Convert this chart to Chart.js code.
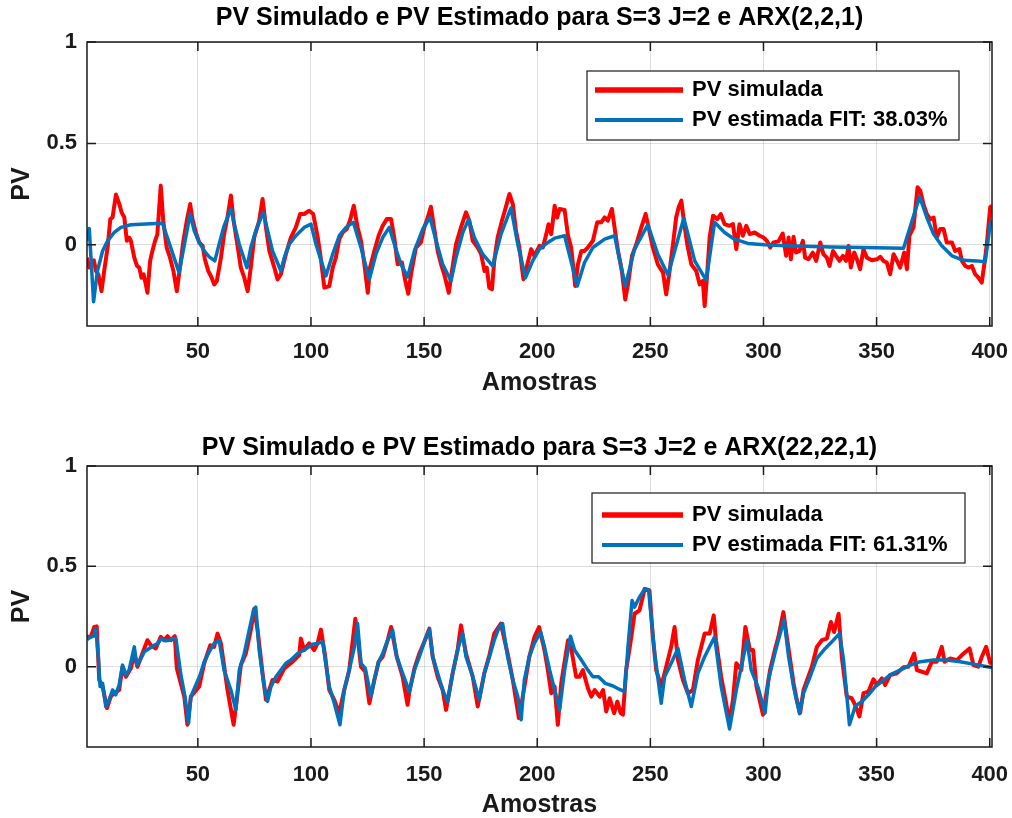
<!DOCTYPE html>
<html>
<head>
<meta charset="utf-8">
<script src="https://cdn.jsdelivr.net/npm/chart.js@4.4.1/dist/chart.umd.min.js"></script>
<style>
html, body { margin: 0; padding: 0; background: #fff; overflow: hidden; }
#wrapTop { position: absolute; left: 0; top: 0; width: 1012px; height: 409px; }
#wrapBot { position: absolute; left: 0; top: 409px; width: 1012px; height: 420px; }
</style>
</head>
<body>
<div id="wrapTop"><canvas id="chartTop"></canvas></div>
<div id="wrapBot"><canvas id="chartBot"></canvas></div>
<script>
var xTicks = [50, 100, 150, 200, 250, 300, 350, 400];
var yTicks = [0, 0.5, 1];

// top: ARX(2,2,1)
var topSimX = [1, 2, 3, 4, 5, 6, 7.4, 8.6, 10.1, 11.3, 12.3, 13.8, 15.3, 16.3, 17.5, 18.6, 19.6, 20.4, 21.9, 23.1,
  24.1, 25.1, 26, 27, 27.7, 28.9, 29.9, 30.9, 32.1, 33.6, 34.7, 36.2, 37.7, 39.2, 40.7, 42.1, 43.6, 45.1, 46.6, 47.6,
  49.1, 50.6, 52.1, 53.1, 54.6, 56.1, 57.2, 58.4, 60.2, 61.6, 63.1, 64.6, 65.8, 67.2, 69, 70.5, 72, 73.4, 74.9, 77.1,
  78.6, 80.1, 81.6, 83.8, 85.2, 86.7, 88.9, 91.1, 93.3, 95.2, 97, 99.2, 101, 103, 104.4, 105.9, 108.1, 109.6, 111, 112.5,
  114, 115.8, 117.2, 118.9, 120.6, 122.1, 123.6, 125.1, 126.1, 128, 129.9, 131.7, 133.5, 135.4, 136.8, 138.3, 140.2, 141.7, 143, 144.2,
  146.4, 148.6, 150.1, 151.6, 153, 154.5, 156, 157.5, 158.9, 160.9, 162.3, 164.1, 166.3, 168.5, 170, 171.5, 173.7, 175.2, 176.7, 177.7,
  178.8, 180, 181, 182.5, 184.4, 186.1, 187.7, 189.2, 190.6, 192.1, 193.9, 195.3, 197.3, 198.7, 201, 202.5, 204, 205, 206.2, 207.7,
  208.8, 209.9, 212.1, 213.6, 215, 216.8, 218, 219.5, 220.9, 222.4, 224.6, 226.5, 228.3, 229.8, 231.2, 233, 234.5, 235.7, 237.4, 238.9,
  240.1, 241.9, 243.8, 246, 247.9, 249.2, 251.1, 253.3, 255.6, 257, 258.5, 260, 261.4, 262.5, 263.7, 264.8, 266.3, 268.1, 270.3, 271.8,
  273.2, 274, 275.2, 276.2, 277.7, 279.6, 281.1, 282.8, 285, 286.5, 288, 289.4, 290.9, 292.4, 293.9, 296.1, 298.3, 300, 301.5, 303,
  304.4, 306.6, 308.5, 310, 311.1, 312.1, 313.3, 314.4, 315.9, 317.4, 318.4, 319.9, 321.8, 323.3, 325.1, 326.5, 328, 329.2, 330.7, 332.1,
  333.6, 335.1, 336.5, 337.6, 338.6, 340.1, 341.3, 342.7, 344.2, 345.7, 347.9, 350.1, 351.6, 353, 354.5, 356, 357.5, 359, 360.4, 362.2,
  363.4, 364.5, 366.3, 368.1, 369.3, 370.7, 372.2, 373.7, 375.2, 376.6, 378.1, 379.6, 381, 383.3, 384.7, 386.6, 387.7, 389.2, 390.6, 392.1,
  393.6, 395, 396.5, 397.6, 398.7, 400.2, 401];
var topSimY = [-0.063, -0.112, -0.087, -0.076, -0.129, -0.145, -0.228, -0.129, -0.013, 0.127, 0.135, 0.248, 0.201, 0.16, 0.135, 0.02, 0.036, 0.02, -0.063, -0.104,
  -0.112, -0.162, -0.145, -0.195, -0.236, -0.079, -0.03, 0.012, 0.053, 0.292, 0.119, -0.013, -0.063, -0.129, -0.228, -0.112, 0.02, 0.119, 0.201, 0.127,
  0.061, 0.012, -0.005, -0.071, -0.129, -0.162, -0.195, -0.178, -0.063, 0.053, 0.135, 0.243, 0.119, 0.02, -0.112, -0.162, -0.228, -0.112, 0.036, 0.119,
  0.226, 0.086, -0.03, -0.112, -0.17, -0.145, -0.046, 0.036, 0.086, 0.152, 0.152, 0.168, 0.152, 0.036, -0.071, -0.211, -0.203, -0.112, -0.063, 0.028,
  0.061, 0.078, 0.119, 0.193, 0.086, 0.02, -0.096, -0.236, -0.112, -0.03, 0.045, 0.094, 0.127, 0.127, 0.036, -0.096, -0.087, -0.178, -0.241, -0.145,
  -0.013, 0.012, 0.086, 0.135, 0.188, 0.078, -0.03, -0.096, -0.145, -0.236, -0.129, 0.003, 0.086, 0.16, 0.119, 0.02, -0.013, -0.046, -0.129, -0.112,
  -0.211, -0.219, -0.079, 0.036, 0.119, 0.185, 0.251, 0.201, 0.069, -0.013, -0.17, -0.112, -0.021, -0.054, -0.005, -0.013, 0.053, 0.102, 0.053, 0.193,
  0.135, 0.177, 0.172, 0.045, -0.013, -0.203, -0.096, -0.03, -0.03, -0.013, 0.02, 0.111, 0.111, 0.135, 0.119, 0.177, 0.061, -0.03, -0.129, -0.269,
  -0.195, -0.054, 0.003, 0.086, 0.152, 0.086, -0.013, -0.096, -0.137, -0.244, -0.129, 0.003, 0.135, 0.185, 0.218, 0.119, 0.003, -0.096, -0.129, -0.195,
  -0.178, -0.302, -0.129, 0.036, 0.144, 0.127, 0.152, 0.102, 0.094, 0.102, -0.021, 0.102, 0.045, 0.094, 0.053, 0.061, 0.045, 0.036, 0.02, -0.013,
  0.012, 0.017, 0.056, -0.054, 0.036, -0.071, 0.04, -0.038, -0.03, 0.02, -0.063, -0.071, -0.038, -0.079, 0.012, -0.046, -0.063, -0.104, -0.03, -0.054,
  -0.079, -0.054, -0.079, -0.005, -0.112, -0.038, -0.071, -0.12, -0.021, -0.063, -0.076, -0.071, -0.059, -0.079, -0.087, -0.145, -0.046, -0.079, -0.112, -0.038,
  -0.12, 0.045, 0.086, 0.284, 0.267, 0.201, 0.152, 0.127, 0.135, 0.036, 0.078, 0.078, 0.012, 0.012, -0.03, -0.021, -0.079, -0.104, -0.112, -0.104,
  -0.145, -0.162, -0.186, -0.096, 0.003, 0.185, 0.193];

var topEstX = [1, 2, 3.9, 5.6, 7.9, 10.1, 13, 16, 20.4, 24.8, 29.2, 34.4, 41.7, 46.6, 48.4, 50.6, 52.8, 55, 57.5, 59.4,
  61.6, 64.6, 66.1, 68.3, 71.7, 73.4, 75.6, 78.9, 80.5, 83, 86.7, 88.2, 90.4, 93.3, 97, 100, 102.2, 106.6, 109.6, 112.5,
  115.5, 118.7, 122.1, 125.8, 128.7, 131.7, 134.6, 137.3, 139.8, 142.7, 145.7, 149.4, 152.6, 155.3, 158.2, 161.9, 164.1, 167.1, 169.7, 172.2,
  175.9, 180.3, 184, 188.4, 191.4, 194.8, 198, 201, 204.7, 207.7, 212.1, 217.7, 220.9, 224.6, 229.8, 234.2, 238.9, 243, 248.9, 253.3,
  257.8, 264.8, 269.6, 274.7, 278.4, 282.8, 287.2, 293.1, 300.5, 310, 330, 350, 361.9, 369, 372.2, 375.2, 378.8, 383.3, 388.4, 394.3,
  398, 400.2, 401];
var topEstY = [0.02, 0.08, -0.28, -0.129, -0.03, 0.02, 0.061, 0.086, 0.099, 0.102, 0.104, 0.106, -0.137, 0.152, 0.069, 0.012, -0.03, -0.059, -0.079, 0.003,
  0.094, 0.177, 0.102, 0.003, -0.112, -0.013, 0.069, 0.16, 0.086, -0.03, -0.129, -0.063, 0.003, 0.045, 0.086, 0.102, 0.003, -0.153, -0.046, 0.045,
  0.086, 0.111, -0.013, -0.17, -0.046, 0.036, 0.086, -0.013, -0.096, -0.158, -0.03, 0.078, 0.135, 0.02, -0.096, -0.178, -0.063, 0.061, 0.127, 0.036,
  -0.046, -0.104, 0.053, 0.182, 0.003, -0.162, -0.079, -0.021, 0.012, 0.033, 0.045, -0.203, -0.087, -0.013, 0.028, 0.045, -0.203, -0.021, 0.099, -0.046,
  -0.149, 0.132, -0.079, -0.175, 0.111, 0.061, 0.028, 0.007, 0.0, -0.004, -0.01, -0.014, -0.017, 0.238, 0.135, 0.053, -0.005, -0.054, -0.076, -0.079,
  -0.083, 0.102, 0.12];

// bottom: ARX(22,22,1)
var botSimX = [1, 2.7, 4.2, 5.3, 6.4, 7.9, 9.8, 11.5, 13, 15.2, 16.7, 18.2, 20.4, 21.9, 23.3, 25.5, 27.7, 29.2, 31.4, 33.6,
  35.1, 36.6, 38.1, 39.8, 40.7, 44, 45.4, 46.9, 50.6, 52.8, 55.5, 57.2, 58.7, 60.2, 63.1, 65.8, 67.2, 69, 71.2, 73.4,
  74.9, 76.4, 78.6, 80.1, 83, 85.2, 88.2, 91.9, 94.8, 95.5, 97, 99.2, 101.4, 102.9, 104.4, 106.3, 108.1, 110.3, 112.5, 114.7,
  116.9, 119.6, 120.6, 122.1, 124, 125.8, 128, 129.9, 131.7, 133.9, 135.4, 137.9, 140.5, 142.7, 143.5, 145.7, 147.9, 150.1, 152.3, 153.8,
  156, 158.2, 159.7, 162.6, 164.8, 166.3, 168.5, 171.5, 173.7, 176.6, 178.9, 181, 183.9, 186.9, 189.2, 191.9, 193.6, 196.5, 198.8, 200.8,
  203.2, 204.7, 206.2, 207.7, 209.1, 210.6, 213.6, 215, 217.2, 218.7, 220.2, 222.4, 223.9, 225.4, 227.6, 229.1, 230.5, 232, 234, 235.4,
  236.9, 237.9, 239.3, 241.6, 243, 245.2, 247.5, 249.6, 251.1, 252.6, 254.8, 257, 259.2, 260.7, 262.2, 264.4, 266.6, 268.8, 271, 272.5,
  274, 276.2, 278, 279, 281.3, 283.5, 285, 286.5, 288, 290.2, 292, 294, 295.4, 296.9, 299.8, 302.9, 305.2, 306.6, 308.8, 310.3,
  313.3, 314.7, 316.2, 317.7, 321.4, 323.6, 325.8, 328, 329.8, 331.2, 333.2, 334.6, 336.8, 339, 340.5, 342.4, 344.2, 346.4, 348.6, 350.1,
  352.3, 353.8, 356, 358.9, 361.9, 364.1, 366.6, 367.8, 370, 372.2, 374.4, 376.6, 378.8, 380, 382.5, 385.5, 387.7, 391.1, 392.8, 395,
  396.5, 398.4, 400.2, 401];
var botSimY = [0.149, 0.149, 0.198, 0.201, -0.066, -0.099, -0.206, -0.149, -0.132, -0.116, 0, -0.05, -0.008, 0.066, 0, 0.066, 0.132, 0.107, 0.091, 0.149,
  0.132, 0.152, 0.132, 0.152, -0.008, -0.149, -0.289, -0.149, -0.099, 0.017, 0.107, 0.099, 0.165, 0.116, -0.116, -0.289, -0.165, 0.008, 0.066, 0.182,
  0.289, 0.182, -0.033, -0.165, -0.066, -0.074, -0.008, 0.025, 0.058, 0.14, 0.083, 0.116, 0.083, 0.116, 0.185, 0.05, -0.116, -0.165, -0.231, -0.116,
  -0.017, 0.239, 0.15, 0.0, -0.025, -0.182, -0.066, 0.025, 0.05, 0.132, 0.198, 0.05, -0.05, -0.19, -0.124, -0.01, 0.066, 0.124, 0.19, 0.05,
  -0.05, -0.116, -0.215, -0.033, 0.083, 0.206, 0.066, -0.05, -0.198, -0.033, 0.06, 0.165, 0.215, 0.066, -0.066, -0.256, -0.149, 0.05, 0.149, 0.198,
  0.083, -0.017, -0.132, -0.099, -0.289, -0.083, 0.132, 0.091, -0.05, -0.05, -0.017, -0.107, -0.149, -0.116, -0.149, -0.116, -0.223, -0.157, -0.231, -0.174,
  -0.231, -0.239, -0.017, 0.149, 0.264, 0.281, 0.388, 0.38, 0.149, -0.017, -0.099, 0.0, 0.099, 0.198, 0.033, -0.066, -0.132, -0.116, 0.033, 0.099,
  0.165, 0.165, 0.256, 0.132, -0.05, -0.182, -0.28, -0.165, 0.017, -0.017, 0.198, 0.083, 0.083, -0.099, -0.239, -0.017, 0.091, 0.149, 0.272, 0.149,
  -0.083, -0.165, -0.231, -0.116, 0, 0.099, 0.132, 0.14, 0.223, 0.173, 0.264, 0.05, -0.149, -0.157, -0.19, -0.248, -0.132, -0.124, -0.063, -0.091,
  -0.058, -0.091, -0.041, -0.033, -0.003, 0, 0.066, -0.017, -0.025, -0.033, 0.025, 0.025, 0.099, 0.025, 0.041, 0.033, 0.058, 0.091, 0.008, 0,
  0.05, 0.099, 0.02, 0.015];

var botEstX = [1, 2.7, 3.9, 4.9, 6, 6.8, 7.9, 9.3, 10.8, 12.3, 13.7, 15.2, 16.7, 18.2, 19.6, 21.9, 23, 24.5, 26.3, 28.5,
  30.7, 32.2, 33.9, 35.9, 37.3, 38.8, 40.3, 42.5, 44.3, 45.9, 46.9, 49.1, 51, 52.8, 55, 57.2, 59.4, 61.6, 64.6, 66.8,
  68.3, 70.5, 72.7, 74.6, 75.6, 77.1, 79.3, 80.8, 82.3, 84.5, 86.7, 88.9, 91.1, 94.1, 97, 100.7, 102.9, 105.2, 106.3, 108.1,
  110.3, 112.8, 114.7, 116.9, 119.2, 120.6, 122.1, 124, 126.5, 128, 129.9, 131.7, 133.9, 136.1, 137.9, 140.5, 143.5, 145.7, 147.9, 150.1,
  152.3, 153.8, 156, 158.2, 160.4, 162.6, 164.8, 167, 168.5, 171.5, 174.4, 176.6, 178.9, 181, 183.3, 184.7, 186.9, 189.2, 191.4, 192.9,
  194.3, 196.5, 198.7, 201.5, 203.2, 205.5, 207.7, 209.9, 212.1, 214.7, 216.5, 219.5, 222.4, 224.6, 227.1, 230.1, 233.5, 236.2, 238.6, 240.1,
  241.9, 243, 245.2, 247.5, 249.2, 251.9, 254.8, 256.3, 259.2, 262.2, 265.1, 268.1, 271, 274, 278.4, 281.3, 285, 288, 290.2, 292.7,
  294.6, 297.5, 300.7, 302.2, 305.2, 307.4, 309.1, 311.1, 313.3, 315.9, 317.7, 320.6, 323.6, 327.3, 330.2, 333.6, 335.4, 338, 340.5, 343.5,
  346.4, 349.4, 352.3, 356, 360.4, 364.8, 369.3, 375.2, 381, 386.9, 392.8, 400.2, 401];
var botEstY = [0.135, 0.149, 0.152, 0.19, 0.05, -0.099, -0.083, -0.198, -0.165, -0.116, -0.14, -0.091, 0.008, -0.041, -0.017, 0.099, 0.008, 0.033, 0.074, 0.091,
  0.107, 0.116, 0.14, 0.129, 0.132, 0.14, 0.14, -0.041, -0.149, -0.281, -0.149, -0.091, -0.041, 0.025, 0.074, 0.116, 0.132, -0.017, -0.116, -0.215,
  -0.017, 0.066, 0.182, 0.281, 0.297, 0.083, -0.099, -0.173, -0.099, -0.05, -0.017, 0.017, 0.033, 0.066, 0.083, 0.112, 0.116, 0.124, 0.033, -0.099,
  -0.182, -0.289, -0.116, -0.017, 0.099, 0.215, 0.017, -0.008, -0.149, -0.066, 0.025, 0.066, 0.132, 0.182, 0.05, -0.033, -0.124, -0.017, 0.05, 0.124,
  0.185, 0.05, -0.033, -0.116, -0.173, -0.033, 0.083, 0.165, 0.05, -0.05, -0.165, -0.033, 0.05, 0.132, 0.201, 0.215, 0.05, -0.066, -0.149, -0.264,
  -0.066, 0.05, 0.116, 0.173, 0.099, -0.017, -0.116, -0.215, -0.017, 0.152, 0.083, 0.033, -0.017, -0.05, -0.05, -0.083, -0.096, -0.112, -0.124, 0.099,
  0.33, 0.297, 0.347, 0.388, 0.383, 0.066, -0.182, -0.05, 0.017, 0.091, -0.066, -0.198, -0.033, 0.05, 0.149, -0.099, -0.31, -0.116, 0, 0.132,
  -0.017, -0.099, -0.231, -0.066, 0.074, 0.165, 0.234, 0.05, -0.099, -0.234, -0.132, -0.05, 0.041, 0.091, 0.124, 0.165, 0.033, -0.289, -0.198, -0.173,
  -0.14, -0.099, -0.074, -0.041, -0.017, 0.008, 0.025, 0.033, 0.033, 0.025, 0.013, -0.003, -0.005];

var FONT = "'Liberation Sans', Arial, sans-serif";
var RED = 'rgb(255, 0, 0)';
var BLUE = 'rgb(0, 114, 189)';
var INK = '#1a1a1a';

function pairs(xs, ys) {
  return xs.map(function(x, i) { return { x: x, y: ys[i] }; });
}

// frame, inward ticks and the legend box, drawn the way MATLAB does it
var matlabFrame = {
  id: 'matlabFrame',
  afterDraw: function(chart, args, opts) {
    var ctx = chart.ctx, a = chart.chartArea;
    var sx = chart.scales.x, sy = chart.scales.y;
    ctx.save();
    ctx.strokeStyle = INK;
    ctx.lineWidth = 1.5;
    ctx.strokeRect(a.left, a.top, a.right - a.left, a.bottom - a.top);
    ctx.beginPath();
    xTicks.forEach(function(v) {
      var p = sx.getPixelForValue(v);
      ctx.moveTo(p, a.bottom); ctx.lineTo(p, a.bottom - 9);
      ctx.moveTo(p, a.top); ctx.lineTo(p, a.top + 9);
    });
    yTicks.forEach(function(v) {
      var p = sy.getPixelForValue(v);
      ctx.moveTo(a.left, p); ctx.lineTo(a.left + 9, p);
      ctx.moveTo(a.right, p); ctx.lineTo(a.right - 9, p);
    });
    ctx.stroke();

    var bx = a.right - opts.right, by = a.top + opts.top;
    ctx.fillStyle = '#fff';
    ctx.fillRect(bx, by, opts.width, opts.height);
    ctx.lineWidth = 1.2;
    ctx.strokeRect(bx, by, opts.width, opts.height);
    ctx.font = 'bold 22px ' + FONT;
    ctx.textBaseline = 'middle';
    ctx.textAlign = 'left';
    chart.data.datasets.forEach(function(ds, i) {
      var y = by + opts.rowY + i * 30;
      ctx.strokeStyle = ds.borderColor;
      ctx.lineWidth = ds.legendWidth;
      ctx.beginPath();
      ctx.moveTo(bx + opts.lineX, y); ctx.lineTo(bx + opts.textX - 9, y);
      ctx.stroke();
      ctx.fillStyle = '#000';
      ctx.fillText(ds.label, bx + opts.textX, y);
    });
    ctx.restore();
  }
};

function makeChart(id, cfg) {
  return new Chart(document.getElementById(id), {
    type: 'line',
    data: {
      datasets: [{
        label: 'PV simulada',
        data: pairs(cfg.simX, cfg.simY),
        borderColor: RED,
        borderWidth: 4,
        legendWidth: 5.5,
        order: 1
      }, {
        label: cfg.estLabel,
        data: pairs(cfg.estX, cfg.estY),
        borderColor: BLUE,
        borderWidth: 3.5,
        legendWidth: 4,
        order: 0
      }]
    },
    options: {
      responsive: true,
      maintainAspectRatio: false,
      animation: false,
      elements: { point: { radius: 0 }, line: { tension: 0, borderJoinStyle: 'round' } },
      layout: { padding: { left: 0, right: 20, top: 0, bottom: 0 } },
      scales: {
        x: {
          type: 'linear',
          min: 1,
          max: 401,
          afterBuildTicks: function(s) { s.ticks = xTicks.map(function(v) { return { value: v }; }); },
          afterFit: function(s) { s.height = cfg.xAxisHeight; s.paddingLeft = 0; s.paddingRight = 0; },
          grid: { color: 'rgba(0,0,0,0.13)', drawTicks: false },
          border: { display: false },
          ticks: { padding: cfg.xTickPad, color: INK, font: { family: FONT, size: 22, weight: 'bold' }, maxRotation: 0 },
          title: { display: true, text: 'Amostras', color: INK, font: { family: FONT, size: 25, weight: 'bold' }, padding: { top: 0, bottom: cfg.xTitlePad } }
        },
        y: {
          min: -0.4,
          max: 1,
          afterBuildTicks: function(s) { s.ticks = yTicks.map(function(v) { return { value: v }; }); },
          afterFit: function(s) { s.width = 87; },
          grid: { color: 'rgba(0,0,0,0.13)', drawTicks: false },
          border: { display: false },
          ticks: { padding: 10, color: INK, font: { family: FONT, size: 22, weight: 'bold' }, callback: function(v) { return String(v); } },
          title: { display: true, text: 'PV', color: INK, font: { family: FONT, size: 25, weight: 'bold' }, padding: { top: 7, bottom: 0 } }
        }
      },
      plugins: {
        legend: { display: false },
        tooltip: { enabled: false },
        title: {
          display: true,
          fullSize: false,
          text: cfg.title,
          color: '#000',
          font: { family: FONT, size: 25, weight: 'bold' },
          padding: cfg.titlePad
        },
        matlabFrame: cfg.legendBox
      }
    },
    plugins: [matlabFrame]
  });
}

makeChart('chartTop', {
  simX: topSimX, simY: topSimY, estX: topEstX, estY: topEstY,
  estLabel: 'PV estimada FIT: 38.03%',
  title: 'PV Simulado e PV Estimado para S=3 J=2 e ARX(2,2,1)',
  titlePad: { top: 3, bottom: 9 },
  xAxisHeight: 83, xTickPad: 13, xTitlePad: 10.5,
  legendBox: { right: 405, top: 29, width: 372, height: 69, rowY: 19, lineX: 8, textX: 105 }
});

makeChart('chartBot', {
  simX: botSimX, simY: botSimY, estX: botEstX, estY: botEstY,
  estLabel: 'PV estimada FIT: 61.31%',
  title: 'PV Simulado e PV Estimado para S=3 J=2 e ARX(22,22,1)',
  titlePad: { top: 24, bottom: 3 },
  xAxisHeight: 82, xTickPad: 15, xTitlePad: 8.5,
  legendBox: { right: 400, top: 27, width: 373, height: 70, rowY: 22, lineX: 10, textX: 100 }
});
</script>
</body>
</html>
